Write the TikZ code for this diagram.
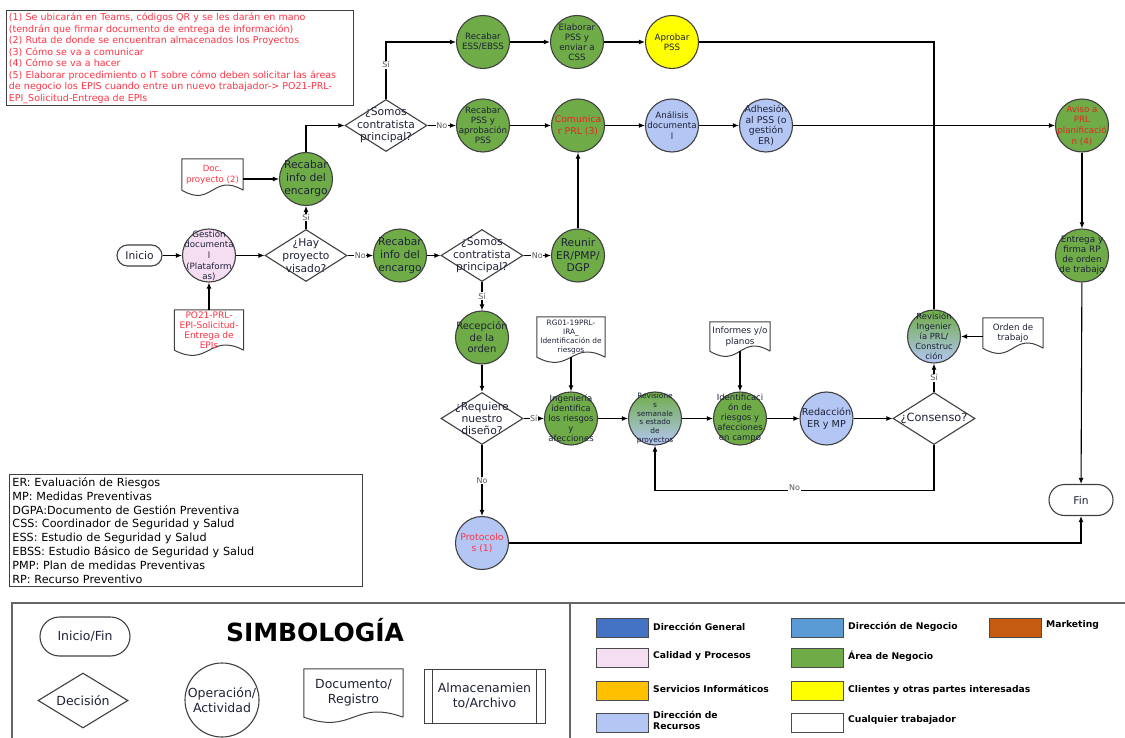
\documentclass[tikz,border=0pt]{standalone}
\usepackage{fontspec}
\setmainfont{DejaVu Sans}
\usetikzlibrary{arrows.meta,shapes.geometric,calc}

\definecolor{verde}{HTML}{6FAC47}
\definecolor{lila}{HTML}{B4C6F4}
\definecolor{rosa}{HTML}{F6DEF2}
\definecolor{amarillo}{HTML}{FFFF00}
\definecolor{rojo}{HTML}{FF3344}
\definecolor{rojob}{HTML}{E52521}
\definecolor{borde}{HTML}{404040}
\definecolor{tinta}{HTML}{1E2238}
\definecolor{azulgen}{HTML}{4472C4}
\definecolor{azulneg}{HTML}{5B9BD5}
\definecolor{naranja}{HTML}{C55A11}
\definecolor{oro}{HTML}{FFC000}

\newcommand{\fsz}[2]{\fontsize{#1}{#2}\selectfont}

\begin{document}
\begin{tikzpicture}[x=1pt,y=-1pt,
 flecha/.style={-{Latex[length=6pt,width=5pt]},line width=1.1pt},
 linea/.style={line width=1.1pt},
 act/.style={circle,draw=borde,line width=1.1pt,minimum size=53pt,inner sep=-8pt,align=center,text=tinta},
 actv/.style={act,fill=verde},
 actl/.style={act,fill=lila},
 actg/.style={act,top color=verde,bottom color=lila},
 decis/.style={diamond,draw=borde,line width=1.1pt,minimum width=82pt,minimum height=52pt,inner sep=-14pt,align=center,fill=white,text=tinta,font=\fsz{10.7}{12.5}},
 term/.style={rectangle,draw=borde,line width=1.1pt,rounded corners=#1,inner sep=0pt,text=tinta,font=\fsz{10.7}{12}},
 docu/.style={rectangle,inner sep=1pt,align=center,
  append after command={\pgfextra{\let\docn\tikzlastnode
   \draw[draw=borde,line width=1pt] (\docn.south east) -- (\docn.north east)
    -- (\docn.north west) -- (\docn.south west)
    .. controls ($(\docn.south)+(0,18)$) and ($(\docn.south)+(0,-18)$) .. (\docn.south east);}}},
 etiq/.style={fill=white,inner sep=0.6pt,font=\fsz{8}{9},text=black!65},
 caja/.style={draw=borde,line width=0.9pt,inner sep=2.5pt,align=left},
 muestra/.style={draw=black!70,line width=1pt,minimum width=52pt,minimum height=19pt,inner sep=0pt},
 leyenda/.style={anchor=west,align=left,inner sep=0pt,font=\bfseries\fsz{9.2}{11}}]
\useasboundingbox (0,0) rectangle (1125,738);

% notas y abreviaturas
\node[caja,anchor=north west,text=rojo,font=\fsz{9.5}{11.5},text width=342pt] (notas) at (6,10)
 {(1) Se ubicarán en Teams, códigos QR y se les darán en mano\\
 (tendrán que firmar documento de entrega de información)\\
 (2) Ruta de donde se encuentran almacenados los Proyectos\\
 (3) Cómo se va a comunicar\\
 (4) Cómo se va a hacer\\
 (5) Elaborar procedimiento o IT sobre cómo deben solicitar las áreas\\
 de negocio los EPIS cuando entre un nuevo trabajador-> PO21-PRL-\\
 EPI\_Solicitud-Entrega de EPIs};
\node[caja,anchor=north west,font=\fsz{11.2}{13.8},text width=347pt,inner sep=3pt] (abrev) at (9,474)
 {ER: Evaluación de Riesgos\\
 MP: Medidas Preventivas\\
 DGPA:Documento de Gestión Preventiva\\
 CSS: Coordinador de Seguridad y Salud\\
 ESS: Estudio de Seguridad y Salud\\
 EBSS: Estudio Básico de Seguridad y Salud\\
 PMP: Plan de medidas Preventivas\\
 RP: Recurso Preventivo};

% entrada
\node[term=10.5pt,minimum width=45pt,minimum height=21pt] (inicio) at (139.5,255.5) {Inicio};
\node[act,fill=rosa,font=\fsz{8.7}{10.7}] (gestion) at (209,255.5) {Gestión\\documenta\\l\\(Plataform\\as)};
\node[docu,minimum width=69pt,minimum height=40pt,text=rojo,font=\fsz{9}{10}] (po21) at (209,330) {PO21-PRL-\\EPI-Solicitud-\\Entrega de\\EPIs};
\node[decis,font=\fsz{10.7}{13}] (hayproy) at (306,255.5) {¿Hay\\proyecto\\visado?};
\node[actv,font=\fsz{10.7}{13}] (recab1) at (306,179) {Recabar\\info del\\encargo};
\node[docu,minimum width=61pt,minimum height=31pt,text=rojo,font=\fsz{8.6}{11}] (docproy) at (212.5,174.5) {Doc.\\proyecto (2)};
\node[actv,font=\fsz{10.7}{13}] (recab2) at (400,255.5) {Recabar\\info del\\encargo};
\node[decis] (somos1) at (482,255.5) {¿Somos\\contratista\\principal?};
\node[actv,font=\fsz{10.7}{12.5}] (reunir) at (578,255.5) {Reunir\\ER/PMP/\\DGP};

% fila superior
\node[decis] (somos2) at (386,125.5) {¿Somos\\contratista\\principal?};
\node[actv,font=\fsz{8.7}{10}] (ess) at (483,42) {Recabar\\ESS/EBSS};
\node[actv,font=\fsz{8.7}{10}] (elab) at (577,42) {Elaborar\\PSS y\\enviar a\\CSS};
\node[act,fill=amarillo,font=\fsz{8.7}{10}] (aprob) at (672,42) {Aprobar\\PSS};
\node[actv,font=\fsz{8.7}{10}] (recpss) at (483,125.5) {Recabar\\PSS y\\aprobación\\PSS};
\node[actv,text=rojob,font=\fsz{9.3}{12}] (comun) at (578,125.5) {Comunica\\r PRL (3)};
\node[actl,font=\fsz{8.7}{10.7}] (anal) at (672,125.5) {Análisis\\documenta\\l};
\node[actl,font=\fsz{9.3}{10.7}] (adhes) at (766,125.5) {Adhesión\\al PSS (o\\gestión\\ER)};
\node[actv,text=rojob,font=\fsz{8.7}{10.7}] (aviso) at (1082,125.5) {Aviso a\\PRL\\planificació\\n (4)};
\node[actv,font=\fsz{8.8}{10}] (entrega) at (1082,255.5) {Entrega y\\firma RP\\de orden\\de trabajo};
\node[term=15.5pt,minimum width=64pt,minimum height=31pt] (fin) at (1081,500) {Fin};

% fila inferior
\node[actv,font=\fsz{10}{11.5}] (recep) at (482,337.5) {Recepción\\de la\\orden};
\node[decis,font=\fsz{10.8}{11.7}] (requiere) at (482,418.5) {¿Requiere\\nuestro\\diseño?};
\node[actl,text=rojo,font=\fsz{9.3}{11}] (proto) at (482,543) {Protocolo\\s (1)};
\node[docu,minimum width=68pt,minimum height=40pt,text=tinta,font=\fsz{7.4}{8.8}] (rg01) at (571,337) {RG01-19PRL-\\IRA\_\\Identificación de\\riesgos};
\node[actv,font=\fsz{8.5}{10}] (ingen) at (571,418.5) {Ingeniería\\identifica\\los riesgos\\y\\afecciones};
\node[actg,font=\fsz{7.4}{8.8}] (revsem) at (655,418.5) {Revisione\\s\\semanale\\s estado\\de\\proyectos};
\node[docu,minimum width=60pt,minimum height=29pt,text=tinta,font=\fsz{8.8}{10.5}] (informes) at (740,336.5) {Informes y/o\\planos};
\node[actv,font=\fsz{8.5}{10}] (ident) at (740,418.5) {Identificaci\\ón de\\riesgos y\\afecciones\\en campo};
\node[actl,font=\fsz{9.6}{11.7}] (redac) at (826.5,418.5) {Redacción\\ER y MP};
\node[decis,font=\fsz{11.3}{13}] (consenso) at (934,418.5) {¿Consenso?};
\node[actg,font=\fsz{8.4}{10}] (revprl) at (934,336.5) {Revisión\\Ingenier\\ía PRL/\\Construc\\ción};
\node[docu,minimum width=60pt,minimum height=30pt,text=tinta,font=\fsz{8.7}{10}] (orden) at (1013,333) {Orden de\\trabajo};
\coordinate (union) at (revprl.north |- aviso.west);

% conectores
\draw[flecha] (inicio) -- (gestion);
\draw[flecha] (po21) -- (gestion);
\draw[flecha] (gestion) -- (hayproy);
\draw[flecha] (hayproy) -- node[etiq]{Sí} (recab1);
\draw[flecha] (hayproy) -- node[etiq]{No} (recab2);
\draw[flecha] (docproy.east |- recab1.west) -- (recab1.west);
\draw[flecha] (recab2) -- (somos1);
\draw[flecha] (somos1) -- node[etiq]{No} (reunir);
\draw[flecha] (somos1) -- node[etiq]{Sí} (recep);
\draw[flecha] (reunir) -- (comun);
\draw[flecha] (recab1.north) |- (somos2.west);
\draw[flecha] (somos2.north) |- node[etiq,pos=0.3]{Sí} (ess.west);
\draw[flecha] (somos2) -- node[etiq]{No} (recpss);
\draw[flecha] (ess) -- (elab);
\draw[flecha] (elab) -- (aprob);
\draw[linea] (aprob.east) -| (union);
\draw[flecha] (recpss) -- (comun);
\draw[flecha] (comun) -- (anal);
\draw[flecha] (anal) -- (adhes);
\draw[flecha] (adhes) -- (aviso);
\draw[linea] (revprl.north) -- (union);
\draw[flecha] (aviso) -- (entrega);
\draw[flecha] (entrega) -- (fin);
\draw[flecha] (proto.east) -| (fin.south);
\draw[flecha] (recep) -- (requiere);
\draw[flecha] (requiere) -- node[etiq]{Sí} (ingen);
\draw[flecha] (requiere) -- node[etiq]{No} (proto);
\draw[flecha] (rg01) -- (ingen);
\draw[flecha] (ingen) -- (revsem);
\draw[flecha] (revsem) -- (ident);
\draw[flecha] (informes) -- (ident);
\draw[flecha] (ident) -- (redac);
\draw[flecha] (redac) -- (consenso);
\draw[flecha] (consenso) -- node[etiq]{Sí} (revprl);
\draw[flecha] (orden.west |- revprl.east) -- (revprl.east);
\draw[flecha] (consenso.south) -- ++(0,45) -| node[etiq,pos=0.25,yshift=2pt]{No} (revsem.south);

% simbologia
\draw[black!60,line width=1.5pt] (12,738) -- (12,603) -- (1125,603);
\draw[black!60,line width=1.5pt] (570,603) -- (570,738);
\node[font=\bfseries\fsz{25}{28}] (titulo) at (315,630) {SIMBOLOGÍA};
\node[term=19.5pt,minimum width=90pt,minimum height=39pt,font=\fsz{12.5}{14}] (linicio) at (85,636.5) {Inicio/Fin};
\node[decis,minimum width=90pt,minimum height=55pt,font=\fsz{12.5}{14}] (ldecis) at (83,700.5) {Decisión};
\node[act,minimum size=74pt,font=\fsz{12.5}{14.5}] (lact) at (222,700) {Operación/\\Actividad};
\node[docu,minimum width=99pt,minimum height=48pt,text=tinta,font=\fsz{12.5}{15}] (ldoc) at (353.5,693) {Documento/\\Registro};
\node[rectangle,draw=borde,line width=1pt,minimum width=121pt,minimum height=54pt,align=center,text=tinta,font=\fsz{12.5}{15}] (lalm) at (484.5,696) {Almacenamien\\to/Archivo};
\draw[borde,line width=1pt] ([xshift=9pt]lalm.north west) -- ([xshift=9pt]lalm.south west);
\draw[borde,line width=1pt] ([xshift=-9pt]lalm.north east) -- ([xshift=-9pt]lalm.south east);

% colores
\node[muestra,fill=azulgen] (mdg) at (622,628) {};
\node[muestra,fill=rosa] (mcp) at (622,658) {};
\node[muestra,fill=oro] (msi) at (622,691) {};
\node[muestra,fill=lila] (mdr) at (622,722.5) {};
\node[muestra,fill=azulneg] (mdn) at (817.5,628) {};
\node[muestra,fill=verde] (man) at (817.5,658) {};
\node[muestra,fill=amarillo] (mcl) at (817.5,691) {};
\node[muestra,fill=white] (mct) at (817.5,722.5) {};
\node[muestra,fill=naranja] (mmk) at (1015,627.5) {};
\node[leyenda] (tdg) at (653,627) {Dirección General};
\node[leyenda] (tcp) at (653,656) {Calidad y Procesos};
\node[leyenda] (tsi) at (653,689) {Servicios Informáticos};
\node[leyenda] (tdr) at (653,720) {Dirección de\\Recursos};
\node[leyenda] (tdn) at (848,627) {Dirección de Negocio};
\node[leyenda] (tan) at (848,656) {Área de Negocio};
\node[leyenda] (tcl) at (848,690) {Clientes y otras partes interesadas};
\node[leyenda] (tct) at (848,720) {Cualquier trabajador};
\node[leyenda] (tmk) at (1046,625) {Marketing};
\end{tikzpicture}
\end{document}
